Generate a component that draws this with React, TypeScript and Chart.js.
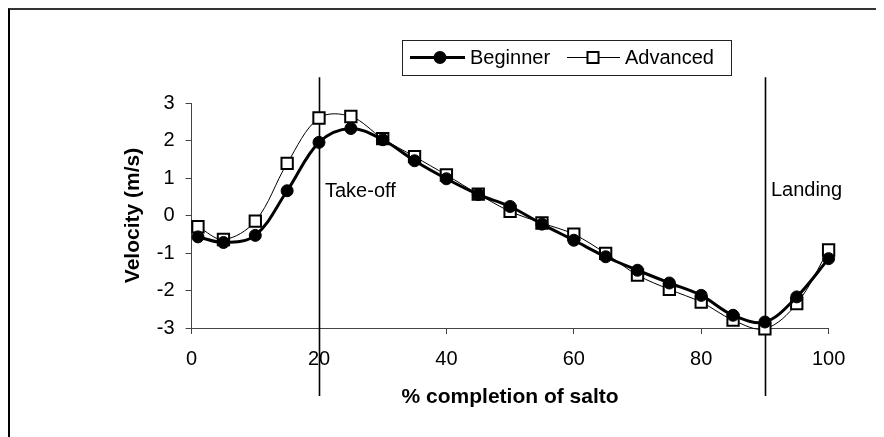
import React, { useEffect, useRef } from 'react';
import { Chart, registerables } from 'chart.js';

Chart.register(...registerables);

// ---- data ----
const percentCompletion = [1, 5, 10, 15, 20, 25, 30, 35, 40, 45, 50, 55, 60, 65, 70, 75, 80, 85, 90, 95, 100];
const beginnerVelocity = [-0.57, -0.72, -0.53, 0.66, 1.95, 2.32, 2.02, 1.46, 0.98, 0.56, 0.24, -0.23, -0.66, -1.1, -1.46, -1.8, -2.13, -2.66, -2.84, -2.17, -1.15];
const advancedVelocity = [-0.3, -0.64, -0.15, 1.39, 2.6, 2.64, 2.05, 1.57, 1.08, 0.57, 0.11, -0.2, -0.5, -1.01, -1.59, -1.97, -2.31, -2.79, -3.02, -2.35, -0.92];
const seriesNames = ['Beginner', 'Advanced'];
const eventPositions = [20, 90];
const eventLabels = ['Take-off', 'Landing'];
const eventLabelValues = [0.63, 0.66];
const eventLineTop = 3.69;
const eventLineBottom = -4.81;
const xTitle = '% completion of salto';
const yTitle = 'Velocity (m/s)';

const FONT = "'Liberation Sans', Arial, Helvetica, sans-serif";

const eventPlugin = {
  id: 'eventLines',
  beforeDatasetsDraw(chart: any) {
    const { ctx, scales } = chart;
    const xs = scales.x;
    const ys = scales.y;
    ctx.save();
    ctx.strokeStyle = '#000';
    ctx.lineWidth = 1.6;
    eventPositions.forEach((v) => {
      const px = Math.round(xs.getPixelForValue(v)) + 0.5;
      ctx.beginPath();
      ctx.moveTo(px, ys.getPixelForValue(eventLineTop));
      ctx.lineTo(px, ys.getPixelForValue(eventLineBottom));
      ctx.stroke();
    });
    ctx.fillStyle = '#000';
    ctx.font = `20px ${FONT}`;
    ctx.textAlign = 'left';
    ctx.textBaseline = 'middle';
    eventLabels.forEach((t, i) => {
      ctx.fillText(t, xs.getPixelForValue(eventPositions[i]) + 6, ys.getPixelForValue(eventLabelValues[i]));
    });
    ctx.restore();
  },
};

const legendPlugin = {
  id: 'boxLegend',
  afterDraw(chart: any) {
    const { ctx } = chart;
    const bx = 392, by = 30, bw = 329, bh = 35;
    const cy = by + bh / 2;
    ctx.save();
    ctx.strokeStyle = '#222';
    ctx.lineWidth = 1;
    ctx.fillStyle = '#fff';
    ctx.fillRect(bx, by, bw, bh);
    ctx.strokeRect(bx + 0.5, by + 0.5, bw, bh);

    // Beginner
    ctx.strokeStyle = '#000';
    ctx.lineWidth = 3;
    ctx.beginPath();
    ctx.moveTo(400, cy);
    ctx.lineTo(455, cy);
    ctx.stroke();
    ctx.fillStyle = '#000';
    ctx.beginPath();
    ctx.arc(430, cy, 6.5, 0, Math.PI * 2);
    ctx.fill();

    // Advanced
    ctx.lineWidth = 1;
    ctx.beginPath();
    ctx.moveTo(557, cy);
    ctx.lineTo(610, cy);
    ctx.stroke();
    ctx.fillStyle = '#fff';
    ctx.fillRect(577.5, cy - 5.5, 11, 11);
    ctx.lineWidth = 2;
    ctx.strokeRect(577.5, cy - 5.5, 11, 11);

    ctx.fillStyle = '#000';
    ctx.font = `20px ${FONT}`;
    ctx.textAlign = 'left';
    ctx.textBaseline = 'middle';
    ctx.fillText(seriesNames[0], 460, cy + 1);
    ctx.fillText(seriesNames[1], 615, cy + 1);
    ctx.restore();
  },
};

export default function App() {
  const ref = useRef<HTMLCanvasElement | null>(null);

  useEffect(() => {
    if (!ref.current) return;
    const chart = new Chart(ref.current, {
      type: 'line',
      data: {
        datasets: [
          {
            label: seriesNames[0],
            data: percentCompletion.map((x, i) => ({ x, y: beginnerVelocity[i] })),
            borderColor: '#000',
            borderWidth: 3,
            tension: 0.35,
            pointStyle: 'circle',
            pointRadius: 6,
            pointBackgroundColor: '#000',
            pointBorderColor: '#000',
            pointBorderWidth: 1,
            clip: false,
          },
          {
            label: seriesNames[1],
            data: percentCompletion.map((x, i) => ({ x, y: advancedVelocity[i] })),
            borderColor: '#000',
            borderWidth: 1,
            tension: 0.35,
            pointStyle: 'rect',
            pointRadius: 8,
            pointBackgroundColor: '#fff',
            pointBorderColor: '#000',
            pointBorderWidth: 2,
            clip: false,
          },
        ],
      },
      options: {
        animation: false,
        responsive: false,
        devicePixelRatio: 1,
        layout: { padding: { left: 110.4, right: 48.4, top: 93, bottom: 27.4 } },
        plugins: {
          legend: { display: false },
          tooltip: { enabled: false },
        },
        scales: {
          x: {
            type: 'linear',
            min: 0,
            max: 100,
            ticks: { stepSize: 20, color: '#000', font: { family: FONT, size: 20 }, padding: 13, maxRotation: 0 },
            grid: { display: true, drawOnChartArea: false, drawTicks: true, tickLength: 6, color: '#444' },
            border: { display: true, color: '#444', width: 1 },
            title: { display: true, text: xTitle, color: '#000', font: { family: FONT, size: 21, weight: 'bold' }, padding: 0 },
            afterFit: (s: any) => { s.height = 81.6; },
          },
          y: {
            type: 'linear',
            min: -3,
            max: 3,
            ticks: { stepSize: 1, color: '#000', font: { family: FONT, size: 20 }, padding: 11 },
            grid: { display: true, drawOnChartArea: false, drawTicks: true, tickLength: 6, color: '#444' },
            border: { display: true, color: '#444', width: 1 },
            title: { display: true, text: yTitle, color: '#000', font: { family: FONT, size: 21, weight: 'bold' }, padding: 0 },
            afterFit: (s: any) => { s.width = 71.2; },
          },
        },
      } as any,
      plugins: [eventPlugin, legendPlugin],
    });
    return () => chart.destroy();
  }, []);

  return (
    <div
      style={{
        boxSizing: 'border-box',
        width: 871,
        height: 429,
        borderTop: '2px solid #333',
        borderLeft: '2px solid #000',
        borderRight: '2px solid #000',
        background: '#fff',
        overflow: 'hidden',
      }}
    >
      <canvas ref={ref} width={867} height={427} style={{ display: 'block', width: 867, height: 427 }} />
    </div>
  );
}
